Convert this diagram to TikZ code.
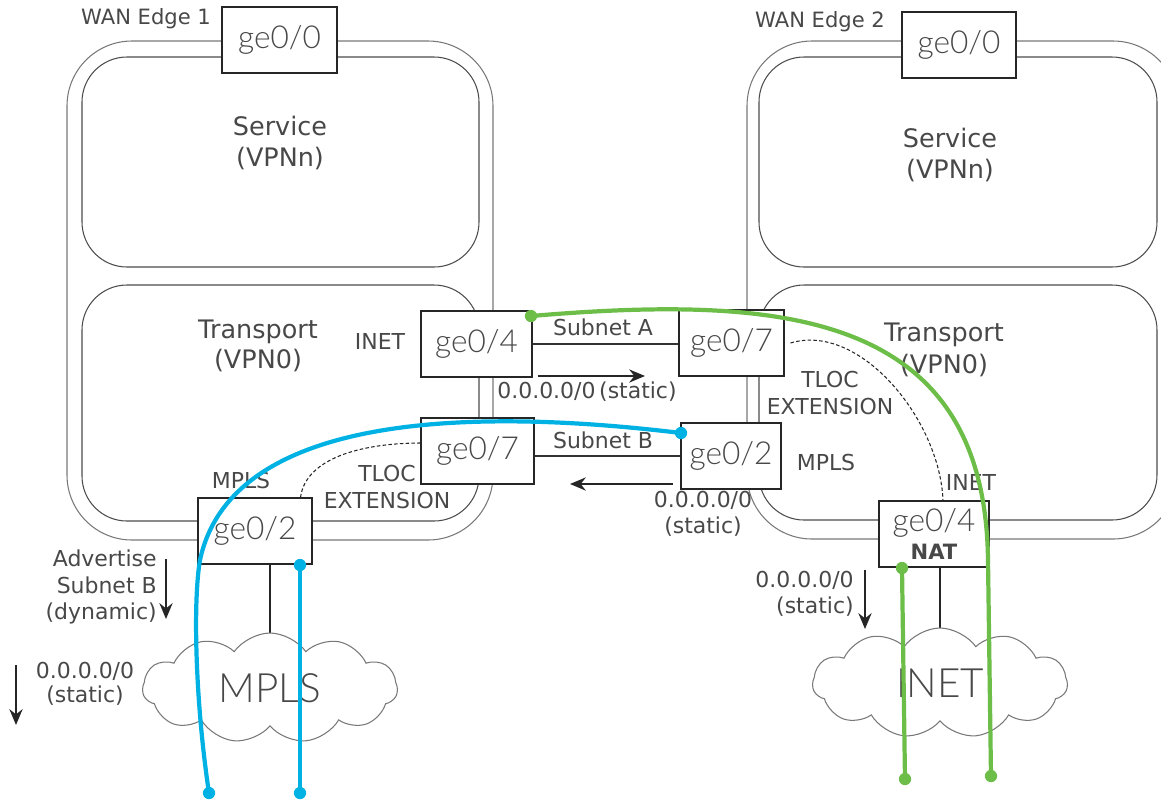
\documentclass[tikz,border=0pt]{standalone}
\usepackage{fontspec}
\setmainfont{DejaVu Sans}
\newfontfamily\portfont{Lato}[UprightFont=* Light]
\usetikzlibrary{shapes.symbols,arrows.meta}

\definecolor{txtgray}{RGB}{72,72,72}
\definecolor{boxgray}{RGB}{120,120,120}
\definecolor{pathblue}{RGB}{0,178,228}
\definecolor{pathgreen}{RGB}{108,190,72}

\begin{document}
\begin{tikzpicture}[x=0.02cm,y=-0.02cm,>={Stealth[length=9pt,width=7.5pt]},
  port/.style={draw=black!85,fill=white,line width=0.6pt,minimum height=1.32cm,inner sep=0pt,text=txtgray,font=\portfont\fontsize{18}{20}\selectfont},
  lbl/.style={text=txtgray,font=\fontsize{12.5}{15}\selectfont,align=center,inner sep=0pt},
  vpnlbl/.style={text=txtgray,font=\fontsize{14.5}{17.5}\selectfont,align=center,inner sep=0pt},
  outerbox/.style={draw=boxgray,line width=0.6pt,rounded corners=1.3cm},
  innerbox/.style={draw=black!70,line width=0.6pt,rounded corners=0.9cm},
  net/.style={cloud,cloud puffs=11,cloud puff arc=110,aspect=2.3,draw=boxgray,fill=white,line width=0.6pt,text=txtgray,font=\portfont\fontsize{23}{25}\selectfont,minimum width=5.1cm,minimum height=2.2cm,inner sep=0pt},
  note/.style={->,line width=1.1pt,black!85},
  bluepath/.style={pathblue,line width=2.4pt},
  greenpath/.style={pathgreen,line width=2.4pt},
  tloc/.style={black!85,dash pattern=on 2pt off 1.3pt,line width=0.6pt}]

  \useasboundingbox (0,0) rectangle (1161,799);
  \clip (0,0) rectangle (1161,799);

  % WAN Edge 1
  \draw[outerbox] (67,41) rectangle (493,540);
  \draw[innerbox] (82,57) rectangle (479,267);
  \draw[innerbox] (82,285) rectangle (479,521);
  \node[lbl,font=\fontsize{12}{14}\selectfont] (edge1) at (146,19) {WAN Edge 1};
  \node[vpnlbl] (svc1) at (280,143) {Service\\(VPNn)};
  \node[vpnlbl] (tpt1) at (258,346) {Transport\\(VPN0)};

  % WAN Edge 2
  \draw[outerbox] (747,41) rectangle (1178,539);
  \draw[innerbox] (759,57) rectangle (1157,267);
  \draw[innerbox] (759,285) rectangle (1157,520);
  \node[lbl,font=\fontsize{12}{14}\selectfont] (edge2) at (820,22) {WAN Edge 2};
  \node[vpnlbl] (svc2) at (950,155) {Service\\(VPNn)};
  \node[vpnlbl,font=\fontsize{14.5}{18.5}\selectfont] (tpt2) at (944,350) {Transport\\(VPN0)};

  % ports
  \node[port,minimum width=2.3cm]  (e1ge00) at (279.5,40) {ge0/0};
  \node[port,minimum width=2.28cm] (e2ge00) at (959,45) {ge0/0};
  \node[port,minimum width=2.22cm] (e1ge04) at (476.5,344) {ge0/4};
  \node[port,minimum width=2.1cm]  (e2ge07) at (731.5,343) {ge0/7};
  \node[port,minimum width=2.26cm] (e1ge07) at (477.5,451) {ge0/7};
  \node[port,minimum width=2.0cm]  (e2ge02) at (731,456) {ge0/2};
  \node[port,minimum width=2.28cm] (e1ge02) at (255,531) {ge0/2};
  \node[port,minimum width=2.2cm,align=center] (e2ge04) at (934,534)
    {ge0/4\\[-4pt]{\rmfamily\bfseries\fontsize{12}{14}\selectfont NAT}};

  % transport links
  \draw[black!80,line width=0.6pt] (e1ge04.east) -- (e1ge04.east -| e2ge07.west);
  \draw[black!80,line width=0.6pt] (e2ge02.west) -- (e2ge02.west -| e1ge07.east);
  \node[lbl] (subA) at (603,327) {Subnet A};
  \node[lbl] (subB) at (603,440) {Subnet B};
  \draw[note] (538,376) -- (645,376);
  \node[lbl,anchor=west] (defA) at (497,392) {0.0.0.0/0\,(static)};
  \draw[note] (673,484) -- (570,484);
  \node[lbl] (defB) at (703,514) {0.0.0.0/0\\(static)};
  \node[lbl] (inet1) at (380,341) {INET};
  \node[lbl] (mpls2) at (826,462) {MPLS};
  \node[lbl] (mpls1) at (241,480) {MPLS};
  \node[lbl] (inet2) at (971,482) {INET};

  % TLOC extensions
  \draw[tloc] ([xshift=-0.24cm]e1ge02.north east) .. controls (306,455) and (370,443) .. ([yshift=0.16cm]e1ge07.west);
  \node[lbl] (tloc1) at (387,487) {TLOC\\EXTENSION};
  \draw[tloc] ([xshift=0.12cm]e2ge07.east) .. controls (860,322) and (940,420) .. ([xshift=0.18cm]e2ge04.north);
  \node[lbl,font=\fontsize{12.5}{15.5}\selectfont] (tloc2) at (830,393) {TLOC\\EXTENSION};

  % clouds
  \draw[black!85,line width=0.6pt] (e1ge02.south -| 270,0) -- (270,640);
  \draw[black!85,line width=0.6pt] (e2ge04.south -| 940,0) -- (940,634);
  \node[net] (mplscloud) at (270,688) {MPLS};
  \node[net] (inetcloud) at (940,683) {INET};

  % route notes
  \node[lbl,align=right,anchor=east] (adv) at (157,587) {Advertise\\Subnet B\\(dynamic)};
  \draw[note] (166,559) -- (166,619);
  \node[lbl,font=\fontsize{12.5}{13.6}\selectfont] (defM) at (85,684) {0.0.0.0/0\\(static)};
  \draw[note] (16,665) -- (16,725);
  \node[lbl,align=right,anchor=east] (defI) at (854,594) {0.0.0.0/0\\(static)};
  \draw[note] (865,570) -- (865,629);

  % paths
  \coordinate (b1a) at (300,565);
  \coordinate (b1b) at (300,793);
  \coordinate (b2a) at (681,433);
  \coordinate (b2b) at (209,793);
  \coordinate (g1a) at (902,568);
  \coordinate (g1b) at (905,779);
  \coordinate (g2a) at (531,316);
  \coordinate (g2b) at (991,776);

  \draw[bluepath] (b1a) -- (b1b);
  \draw[bluepath] (b2a) .. controls (450,405) and (230,420) .. (200,560)
    .. controls (193,600) and (195,700) .. (b2b);
  \draw[greenpath] (g1a) -- (g1b);
  \draw[greenpath] (g2a) .. controls (780,295) and (985,310) .. (988,560) -- (g2b);
  \foreach \p in {b1a,b1b,b2a,b2b}
    \fill[pathblue] (\p) circle (3.5pt);
  \foreach \p in {g1a,g1b,g2a,g2b}
    \fill[pathgreen] (\p) circle (3.5pt);

\end{tikzpicture}
\end{document}
